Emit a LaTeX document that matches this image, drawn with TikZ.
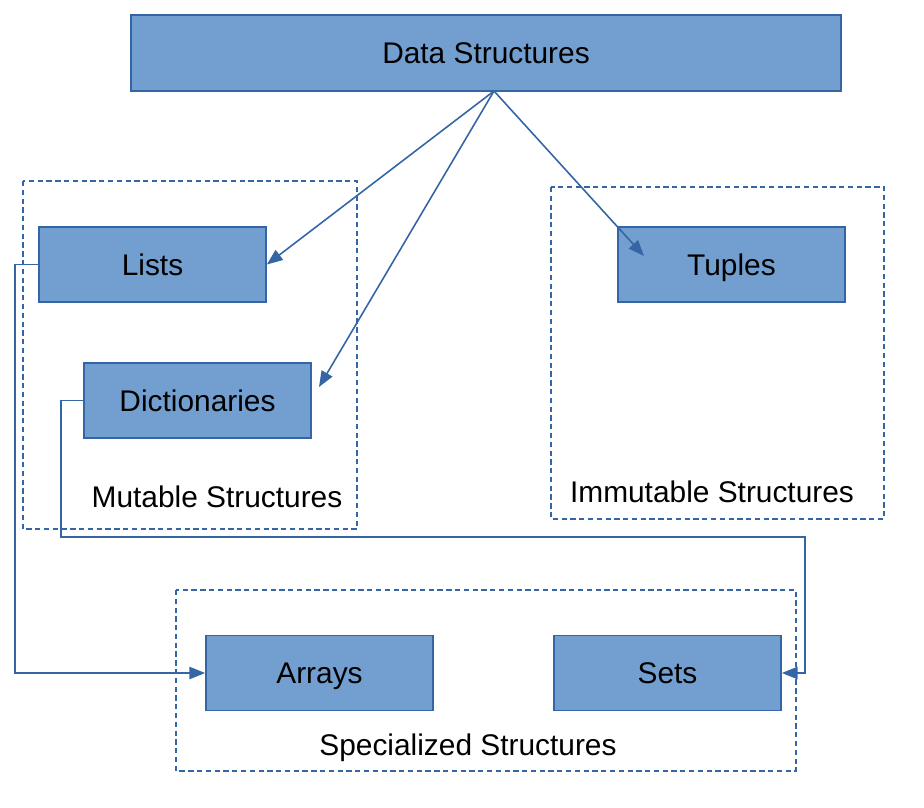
\documentclass[tikz,border=0pt]{standalone}
\usepackage{fontspec}
\setmainfont{Liberation Sans}
\usetikzlibrary{arrows.meta}

\definecolor{boxfill}{HTML}{729FCF}
\definecolor{boxline}{HTML}{3465A4}

\begin{document}
\begin{tikzpicture}[
  x=0.02cm,y=-0.02cm,
  >={Triangle[length=9pt,width=7pt]},
  every node/.style={font=\fontsize{17}{20}\selectfont,text height=12.2pt,text depth=0pt},
  item/.style={draw=boxline,fill=boxfill,line width=1pt,minimum width=4.54cm,minimum height=1.5cm},
  group/.style={draw=boxline,line width=0.9pt,dash pattern=on 3pt off 2pt},
  link/.style={draw=boxline,line width=0.9pt,->}
]
  \useasboundingbox (0,0) rectangle (924,808);

  \draw[group] (23,181) rectangle (357,529);
  \draw[group] (551,187) rectangle (884,519);
  \draw[group] (176,590) rectangle (796,771);

  \node[item,minimum width=14.2cm,minimum height=1.52cm] (data) at (486,53) {Data Structures};
  \node[item] (lists) at (152.5,264.5) {Lists};
  \node[item] (dicts) at (197.5,400.5) {Dictionaries};
  \node[item] (tuples) at (731.5,264.5) {Tuples};
  \node[item] (arrays) at (319.5,673) {Arrays};
  \node[item] (sets) at (667.5,673) {Sets};

  \node (mutable) at (217,497) {Mutable Structures};
  \node (immutable) at (712,492) {Immutable Structures};
  \node (special) at (468,745) {Specialized Structures};

  \coordinate (root) at (494,91);
  \coordinate (dictin) at (319,387);
  \coordinate (tupin) at (644,256);

  \draw[link] (root) -- (lists.east);
  \draw[link] (root) -- (dictin);
  \draw[link] (root) -- (tupin);
  \draw[link] (lists.west) -| (15,673) -- (arrays.west);
  \draw[link] (dicts.west) -| (61,537) -| (805,673) -- (sets.east);
\end{tikzpicture}
\end{document}
